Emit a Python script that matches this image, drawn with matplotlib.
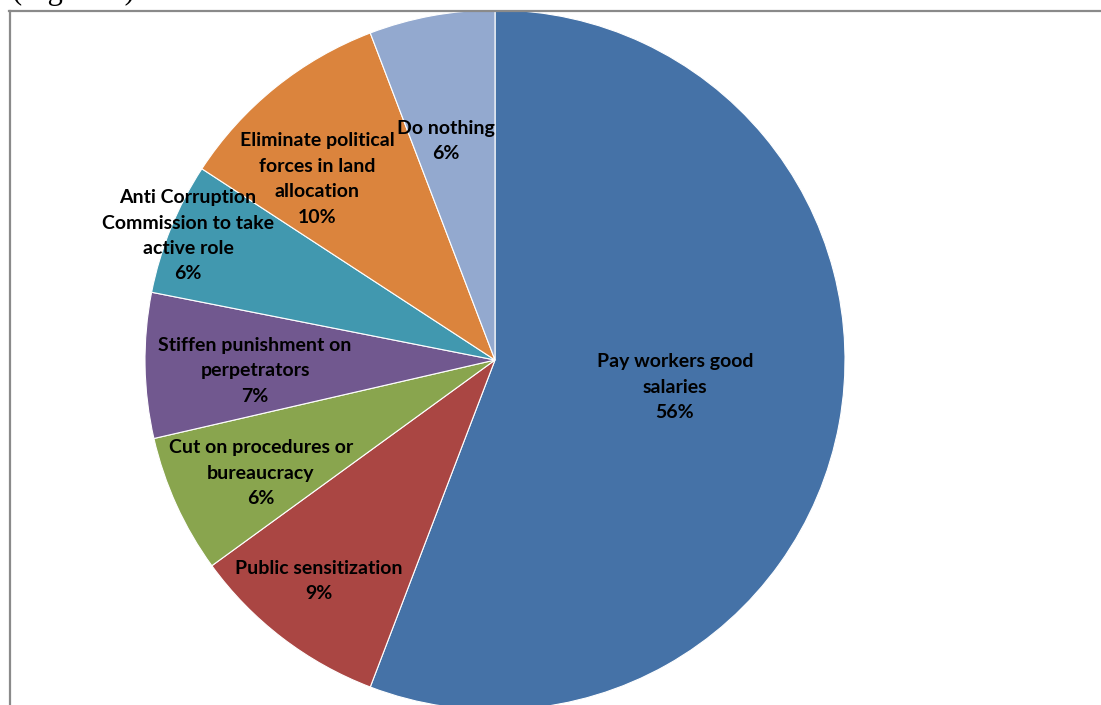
import numpy as np
import matplotlib
matplotlib.use("Agg")
import matplotlib.pyplot as plt
from matplotlib.lines import Line2D

# data (clockwise from 12 o'clock)
categories = ["Pay workers good\nsalaries", "Public sensitization",
              "Cut on procedures or\nbureaucracy", "Stiffen punishment on\nperpetrators",
              "Anti Corruption\nCommission to take\nactive role",
              "Eliminate political\nforces in land\nallocation", "Do nothing"]
shares = [55.8, 9.2, 6.4, 6.7, 6.1, 10.0, 5.8]
colors = ["#4572A7", "#AA4643", "#89A54E", "#71588F", "#4198AF", "#DB843D", "#93A9CF"]
# label placement: radius (fraction of pie radius) and angle shift from wedge middle (deg)
label_r = [0.52, 0.807, 0.743, 0.686, 0.946, 0.725, 0.641]
label_shift = [1.9, -1.1, 1.3, 1.7, 0.1, 5.6, 2.2]

W, H = 1101, 705
fig = plt.figure(figsize=(W / 100, H / 100), dpi=100)
ax = fig.add_axes([0, 0, 1, 1])

wedges, _ = ax.pie(shares, colors=colors, startangle=90, counterclock=False,
                   wedgeprops=dict(edgecolor="white", linewidth=0.8))

total = sum(shares)
for w, name, v, r, s in zip(wedges, categories, shares, label_r, label_shift):
    ang = np.deg2rad((w.theta1 + w.theta2) / 2 + s)
    ax.text(r * np.cos(ang), r * np.sin(ang), f"{name}\n{v / total * 100:.0f}%",
            ha="center", va="center", fontsize=14, fontweight="bold",
            family="Lato", color="black", linespacing=1.6)

# pie centre at pixel (495, 360), radius 350 px
cx, cy, rad = 495, 360, 350
ax.set_aspect("auto")
ax.set_xlim(-cx / rad, (W - cx) / rad)
ax.set_ylim(-(H - cy) / rad, cy / rad)
ax.axis("off")

# frame of the embedded chart
gray = "#8a8a8a"
fig.add_artist(Line2D([9 / W, 1], [1 - 11 / H, 1 - 11 / H], color=gray, lw=1.6,
                      transform=fig.transFigure))
fig.add_artist(Line2D([10 / W, 10 / W], [0, 1 - 11 / H], color=gray, lw=1.6,
                      transform=fig.transFigure))

# caption text of the page, cut off at the top
fig.text(12 / W, 1 + 1.5 / H, "(Figure 4)", ha="left", va="baseline",
         fontsize=22, family="Liberation Serif", color="black")

fig.savefig("out.png", dpi=100)
